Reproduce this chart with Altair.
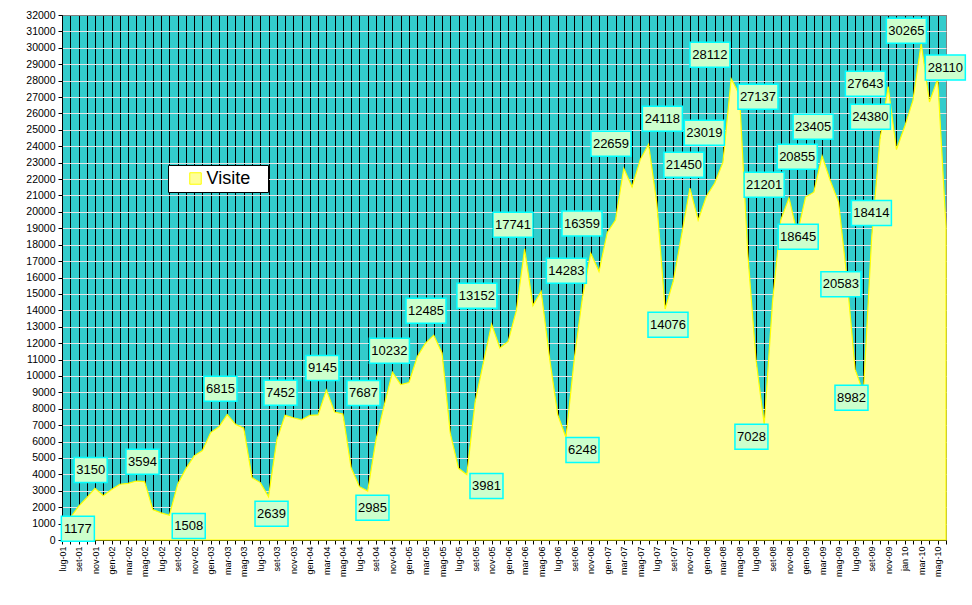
import json
import altair as alt
import pandas as pd

# Monthly categories, July 2001 - June 2010
MONTHS = [
    "lug-01", "ago-01", "set-01", "ott-01", "nov-01", "dic-01",
    "gen-02", "feb-02", "mar-02", "apr-02", "mag-02", "giu-02", "lug-02", "ago-02", "set-02", "ott-02", "nov-02", "dic-02",
    "gen-03", "feb-03", "mar-03", "apr-03", "mag-03", "giu-03", "lug-03", "ago-03", "set-03", "ott-03", "nov-03", "dic-03",
    "gen-04", "feb-04", "mar-04", "apr-04", "mag-04", "giu-04", "lug-04", "ago-04", "set-04", "ott-04", "nov-04", "dic-04",
    "gen-05", "feb-05", "mar-05", "apr-05", "mag-05", "giu-05", "lug-05", "ago-05", "set-05", "ott-05", "nov-05", "dic-05",
    "gen-06", "feb-06", "mar-06", "apr-06", "mag-06", "giu-06", "lug-06", "ago-06", "set-06", "ott-06", "nov-06", "dic-06",
    "gen-07", "feb-07", "mar-07", "apr-07", "mag-07", "giu-07", "lug-07", "ago-07", "set-07", "ott-07", "nov-07", "dic-07",
    "gen-08", "feb-08", "mar-08", "apr-08", "mag-08", "giu-08", "lug-08", "ago-08", "set-08", "ott-08", "nov-08", "dic-08",
    "gen-09", "feb-09", "mar-09", "apr-09", "mag-09", "giu-09", "lug-09", "ago-09", "set-09", "ott-09", "nov-09", "dic-09",
    "gen-10", "feb-10", "mar-10", "apr-10", "mag-10", "giu-10",
]

# Monthly visits
VISITS = [
    1177, 1350, 2050, 2580, 3150, 2700,
    3080, 3400, 3450, 3594, 3560, 1850, 1650, 1508, 3400, 4350, 5130, 5450,
    6550, 6900, 7650, 7050, 6815, 3800, 3500, 2639, 6100, 7600, 7452, 7330,
    7600, 7630, 9145, 7800, 7687, 4400, 3250, 2985, 6100, 8200, 10232, 9480,
    9600, 11170, 12000, 12485, 11400, 6500, 4370, 3981, 8400, 10800, 13152, 11700,
    12100, 14000, 17741, 14283, 15150, 11150, 7650, 6248, 11000, 14800, 17480, 16359,
    18750, 19500, 22659, 21520, 23200, 24118, 20500, 14076, 15800, 18600, 21450, 19500,
    20950, 21740, 23019, 28112, 27137, 17500, 11000, 7028, 14500, 19500, 20855, 18645,
    20900, 21201, 23405, 21900, 20583, 16000, 10400, 8982, 18414, 24380, 27643, 23800,
    25200, 26800, 30265, 26700, 28110, 19100,
]

# Category axis labels, one every two months
AXIS_LABELS = [
    "lug-01", "set-01", "nov-01", "gen-02", "mar-02", "mag-02", "lug-02", "set-02", "nov-02",
    "gen-03", "mar-03", "mag-03", "lug-03", "set-03", "nov-03", "gen-04", "mar-04", "mag-04",
    "lug-04", "set-04", "nov-04", "gen-05", "mar-05", "mag-05", "lug-05", "set-05", "nov-05",
    "gen-06", "mar-06", "mag-06", "lug-06", "set-06", "nov-06", "gen-07", "mar-07", "mag-07",
    "lug-07", "set-07", "nov-07", "gen-08", "mar-08", "mag-08", "lug-08", "set-08", "nov-08",
    "gen-09", "mar-09", "mag-09", "lug-09", "set-09", "nov-09", "jan 10", "mar-10", "mag-10",
]

# Months that carry a value callout
LABEL_MONTHS = [
    "lug-01", "nov-01", "apr-02", "ago-02", "mag-03", "ago-03", "nov-03", "mar-04", "mag-04",
    "ago-04", "nov-04", "apr-05", "ago-05", "nov-05", "mar-06", "apr-06", "ago-06", "dic-06",
    "mar-07", "giu-07", "ago-07", "nov-07", "mar-08", "apr-08", "mag-08", "ago-08", "feb-09",
    "nov-08", "dic-08", "mar-09", "mag-09", "ago-09", "set-09", "ott-09", "nov-09", "mar-10",
    "mag-10",
]
# Where each callout box sits (month position, visits level)
LABEL_AT_MONTH = [
    1.92, 3.47, 9.74, 15.34, 19.18, 25.36, 26.45, 31.52, 36.49,
    37.58, 39.63, 44.06, 51.38, 50.22, 54.59, 61.05, 63.00, 62.94,
    66.45, 72.67, 73.35, 75.27, 77.75, 78.43, 84.24, 83.45, 84.99,
    88.99, 89.11, 90.92, 94.28, 95.56, 97.97, 97.85, 97.24, 102.20,
    106.92,
]
LABEL_AT_LEVEL = [
    689, 4267, 4766, 853, 9216, 1597, 8978, 10483, 8960,
    1963, 11532, 13970, 3291, 14884, 19212, 16408, 5486, 19291,
    24148, 25672, 13116, 22875, 24819, 29579, 27013, 6290, 21649,
    23356, 18486, 25184, 15591, 8667, 19931, 25794, 27805, 31036,
    28799,
]

N = len(MONTHS)
series = pd.DataFrame({
    "idx": list(range(N)),
    "mese": MONTHS,
    "visite": VISITS,
    "serie": ["Visite"] * N,
})

label_text = [str(VISITS[MONTHS.index(m)]) for m in LABEL_MONTHS]
callouts = pd.DataFrame({
    "idx": LABEL_AT_MONTH,
    "visite": LABEL_AT_LEVEL,
    "testo": label_text,
    "cifre": [str(len(t)) for t in label_text],
})

x_scale = alt.Scale(domain=[0, N - 1], nice=False, zero=False)
y_scale = alt.Scale(domain=[0, 32000], nice=False)

label_expr = (
    "datum.value % 2 === 0 ? " + json.dumps(AXIS_LABELS) + "[datum.value / 2] : ''"
)

x_axis = alt.Axis(
    values=list(range(N)),
    labelExpr=label_expr,
    labelAngle=-90,
    labelFont="Arial",
    labelFontSize=9,
    labelColor="black",
    labelPadding=2,
    labelFlush=False,
    labelOverlap=False,
    tickColor="black",
    tickSize=4,
    domainColor="black",
    grid=True,
    gridColor={"condition": {"test": f"datum.value === {N - 1}", "value": "#808080"}, "value": "black"},
    gridWidth=1,
    title=None,
)

y_axis = alt.Axis(
    values=list(range(0, 32001, 1000)),
    format="d",
    labelFont="Arial",
    labelFontSize=10.5,
    labelColor="black",
    labelPadding=3,
    labelFlush=False,
    tickColor="black",
    tickSize=4,
    domainColor="black",
    grid=True,
    gridColor={"condition": {"test": "datum.value === 32000", "value": "#808080"}, "value": "#E4E4E4"},
    gridWidth=1,
    title=None,
)

x_enc = alt.X("idx:Q", scale=x_scale, axis=x_axis)
y_enc = alt.Y("visite:Q", scale=y_scale, axis=y_axis)

area = alt.Chart(series).mark_area(
    stroke="#FFFF00", strokeWidth=1.2, opacity=1, interpolate="linear"
).encode(
    x=x_enc,
    y=y_enc,
    fill=alt.Fill(
        "serie:N",
        scale=alt.Scale(domain=["Visite"], range=["#FFFF99"]),
        legend=alt.Legend(
            title=None,
            orient="none",
            legendX=106,
            legendY=150,
            symbolType="square",
            symbolSize=132,
            symbolStrokeColor="#FFFF00",
            symbolStrokeWidth=1,
            symbolOffset=14,
            labelFont="Arial",
            labelFontSize=18,
            labelColor="black",
            labelOffset=2,
            labelExpr="datum.label + '\u2800'",
            fillColor="white",
            strokeColor="black",
            padding=4.5,
        ),
    ),
)

box4 = "M-0.825,-0.625H0.825V0.625H-0.825Z"
box5 = "M-1,-0.625H1V0.625H-1Z"

boxes = alt.Chart(callouts).mark_point(
    filled=True, fill="#CCFFCC", stroke="#00FFFF", strokeWidth=1.5,
    size=1600, opacity=1, fillOpacity=1, strokeOpacity=1,
).encode(
    x=x_enc,
    y=y_enc,
    shape=alt.Shape("cifre:N", scale=alt.Scale(domain=["4", "5"], range=[box4, box5]), legend=None),
)

texts = alt.Chart(callouts).mark_text(
    font="Arial", fontSize=13, color="black", align="center", baseline="middle"
).encode(
    x=x_enc,
    y=y_enc,
    text="testo:N",
)

chart = alt.layer(area, boxes, texts).properties(
    width=884,
    height=525,
    autosize=alt.AutoSizeParams(type="none"),
    padding={"left": 62, "top": 15, "right": 26, "bottom": 65},
    background="white",
).configure_view(
    fill="#33CCCC", stroke="#808080", strokeWidth=1
)

chart.save("out.html", embed_options={"renderer": "svg", "actions": False})
